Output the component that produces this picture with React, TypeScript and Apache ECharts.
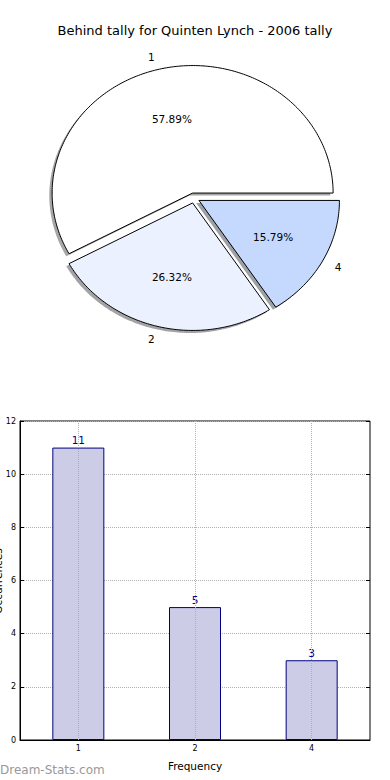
import React, { useEffect, useRef } from "react";
import * as echarts from "echarts";

const titleText = "Behind tally for Quinten Lynch - 2006 tally";
const sliceLabels = ["1", "2", "4"];
const sliceValues = [11, 5, 3];
const sliceColors = ["#ffffff", "#ebf1fe", "#c5d8fe"];

const barCategories = ["1", "2", "4"];
const barValues = [11, 5, 3];
const yMin = 0;
const yMax = 12;
const yInterval = 2;
const xAxisName = "Frequency";
const yAxisName = "Occurrences";
const watermark = "Dream-Stats.com";

const FONT = "DejaVu Sans";
const CX = 194;
const CY = 198;
const RX = 140.5;
const RY = 127.5;
const EXPLODE = 0.04;

function renderSlice(params: any, api: any) {
  const i = params.dataIndex;
  const v = api.value(0);
  const total = sliceValues.reduce((a, b) => a + b, 0);
  let before = 0;
  for (let j = 0; j < i; j++) before += sliceValues[j];
  const t1 = (before / total) * 360;
  const t2 = ((before + v) / total) * 360;
  const mid = (((t1 + t2) / 2) * Math.PI) / 180;
  const cx = CX + EXPLODE * RX * Math.cos(mid);
  const cy = CY - EXPLODE * RY * Math.sin(mid);
  const pts: number[][] = [[cx, cy]];
  const n = Math.max(8, Math.ceil(t2 - t1));
  for (let k = 0; k <= n; k++) {
    const a = ((t1 + ((t2 - t1) * k) / n) * Math.PI) / 180;
    pts.push([cx + RX * Math.cos(a), cy - RY * Math.sin(a)]);
  }
  const sdx = -0.02 * RX;
  const sdy = 0.02 * RY;
  const shadowPts = pts.map((p) => [p[0] + sdx, p[1] + sdy]);
  const c = echarts.color.parse(sliceColors[i]);
  const shadowFill = `rgba(${Math.round(c[0] * 0.3)},${Math.round(c[1] * 0.3)},${Math.round(c[2] * 0.3)},0.5)`;
  const pct = ((v / total) * 100).toFixed(2) + "%";
  const cosm = Math.cos(mid);
  const sinm = Math.sin(mid);
  return {
    type: "group",
    children: [
      { type: "polygon", shape: { points: shadowPts }, style: { fill: shadowFill }, z2: 0 },
      {
        type: "polygon",
        shape: { points: pts },
        style: { fill: sliceColors[i], stroke: "#000", lineWidth: 1 },
        z2: 5,
      },
      {
        type: "text",
        x: cx + 0.6 * RX * cosm,
        y: cy - 0.6 * RY * sinm,
        style: {
          text: pct,
          align: "center",
          verticalAlign: "middle",
          font: `10.5px '${FONT}'`,
          fill: "#000",
        },
        z2: 10,
      },
      {
        type: "text",
        x: cx + 1.1 * RX * cosm,
        y: cy - 1.1 * RY * sinm,
        style: {
          text: sliceLabels[i],
          align: cosm > 0 ? "left" : "right",
          verticalAlign: "middle",
          font: `10.5px '${FONT}'`,
          fill: "#000",
        },
        z2: 10,
      },
    ],
  };
}

export default function App() {
  const ref = useRef<HTMLDivElement>(null);
  useEffect(() => {
    if (!ref.current) return;
    const chart = echarts.init(ref.current, undefined, { renderer: "svg" });
    const gridLine = { lineStyle: { color: "#b0b0b0", type: "dotted", width: 1 } };
    chart.setOption({
      animation: false,
      backgroundColor: "#ffffff",
      textStyle: { fontFamily: FONT },
      graphic: [
        {
          type: "text",
          x: 195,
          y: 30,
          style: {
            text: titleText,
            align: "center",
            verticalAlign: "middle",
            font: `13px '${FONT}'`,
            fill: "#000",
          },
        },
        {
          type: "text",
          x: 3,
          y: 581,
          rotation: Math.PI / 2,
          style: {
            text: yAxisName,
            align: "center",
            verticalAlign: "bottom",
            font: `10.5px '${FONT}'`,
            fill: "#000",
          },
        },
        {
          type: "text",
          x: 0,
          y: 770,
          style: {
            text: watermark,
            align: "left",
            verticalAlign: "middle",
            font: `12px '${FONT}'`,
            fill: "#999999",
          },
        },
      ],
      grid: {
        left: 20,
        right: 20,
        top: 421,
        bottom: 40,
        show: true,
        borderColor: "#000",
        borderWidth: 1,
        backgroundColor: "transparent",
        containLabel: false,
        outerBoundsMode: "none",
      },
      xAxis: {
        type: "category",
        data: barCategories,
        boundaryGap: true,
        z: 3,
        name: xAxisName,
        nameLocation: "middle",
        nameGap: 20,
        nameTextStyle: { fontSize: 10.5, color: "#000", fontFamily: FONT },
        axisLine: { show: true, lineStyle: { color: "#000" } },
        axisTick: { show: false, alignWithLabel: true },
        axisLabel: { fontSize: 8, color: "#000", margin: 4, fontFamily: FONT },
        splitLine: { show: true, alignWithLabel: true, ...gridLine },
      },
      yAxis: [
        {
          type: "value",
          min: yMin,
          max: yMax,
          interval: yInterval,
          z: 0,
          axisLine: { show: true, lineStyle: { color: "#000" } },
          axisTick: { show: true, inside: true, length: 4, lineStyle: { color: "#000" } },
          axisLabel: { fontSize: 8, color: "#000", margin: 4, fontFamily: FONT },
          splitLine: { show: true, ...gridLine },
        },
        {
          type: "value",
          position: "right",
          min: yMin,
          max: yMax,
          interval: yInterval,
          z: 3,
          axisLine: { show: false },
          axisTick: { show: true, inside: true, length: 4, lineStyle: { color: "#000" } },
          axisLabel: { show: false },
          splitLine: { show: false },
        },
      ],
      series: [
        {
          type: "custom",
          coordinateSystem: "none",
          renderItem: renderSlice,
          data: sliceValues.map((v) => [v]),
          z: 3,
        },
        {
          type: "bar",
          yAxisIndex: 0,
          data: barValues,
          barWidth: 52,
          itemStyle: { color: "#ccccE6", borderColor: "#00007f", borderWidth: 1 },
          label: {
            show: true,
            position: "top",
            distance: 2,
            color: "#00008b",
            fontSize: 10.5,
            fontFamily: FONT,
          },
          z: 2,
        },
      ],
    });
    return () => chart.dispose();
  }, []);
  return (
    <div
      ref={ref}
      style={{ position: "fixed", left: 0, top: 0, width: 390, height: 780 }}
    />
  );
}
